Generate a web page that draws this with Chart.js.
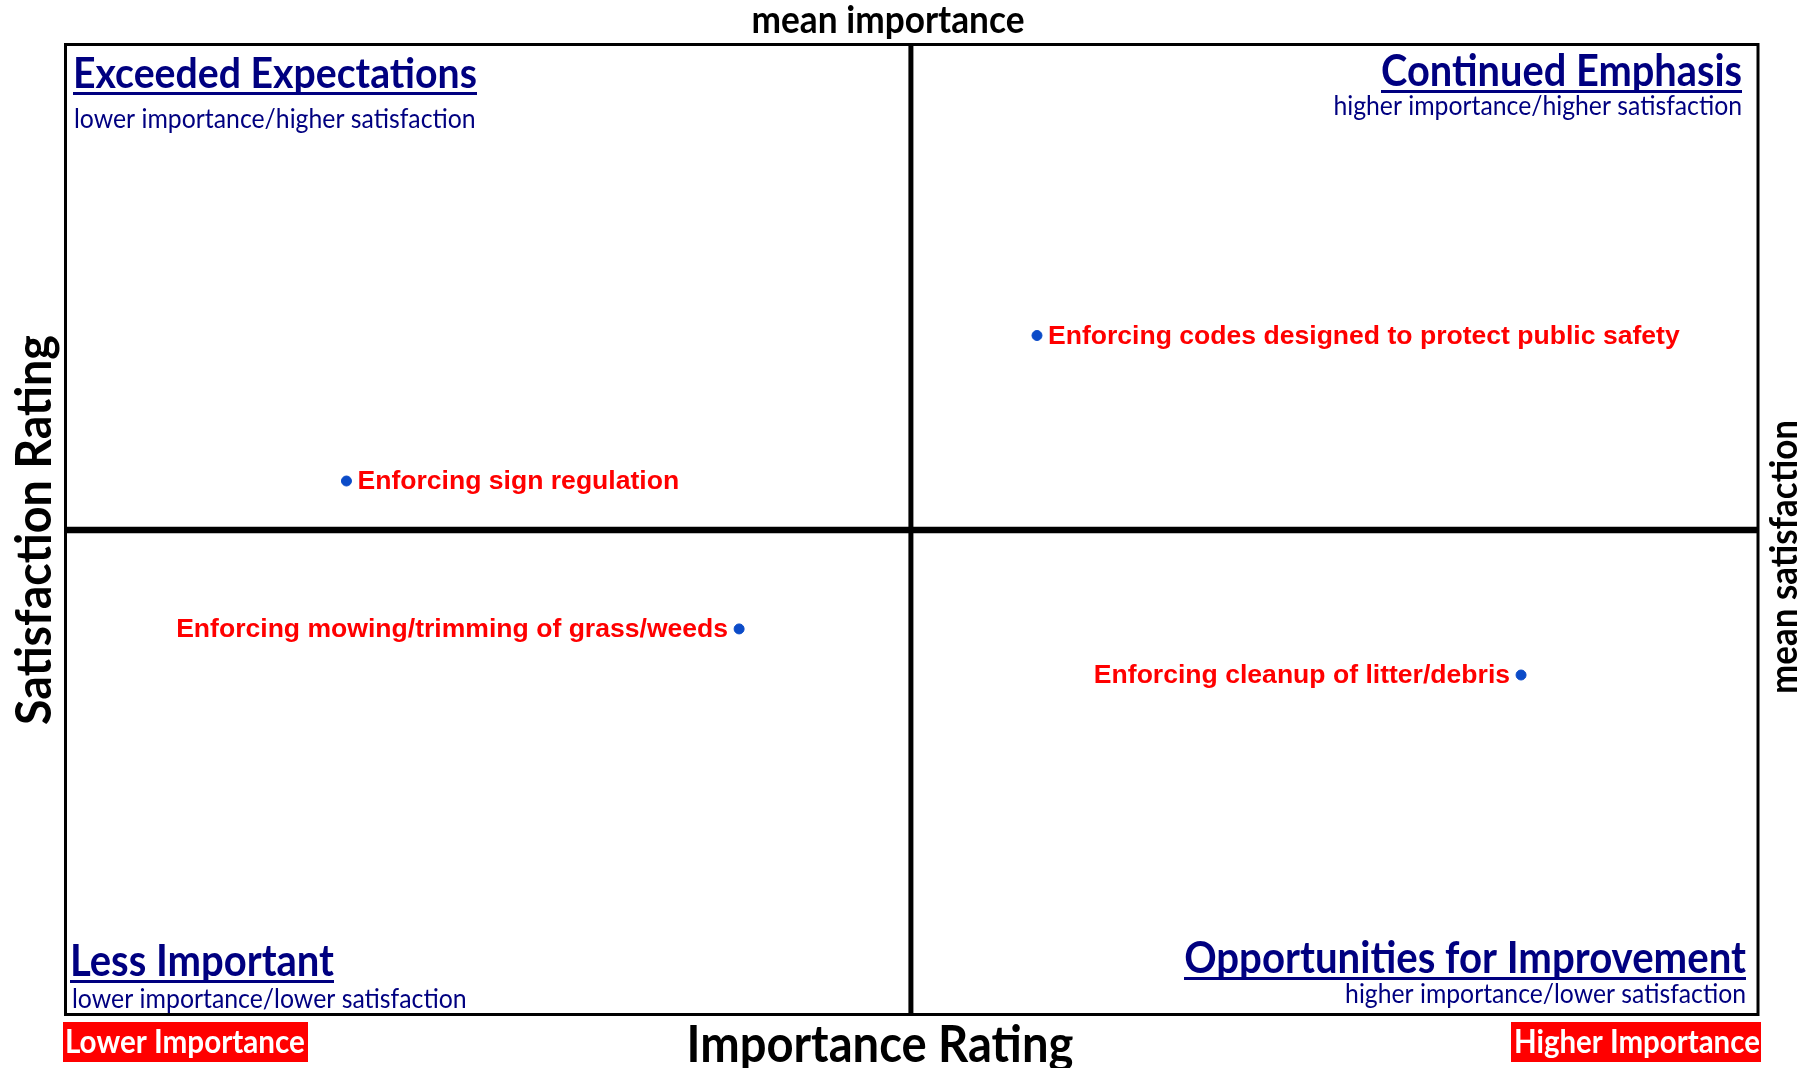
<!DOCTYPE html>
<html>
<head>
<meta charset="utf-8">
<script src="https://cdn.jsdelivr.net/npm/chart.js@4.4.1/dist/chart.umd.min.js"></script>
<style>
  html, body { margin: 0; padding: 0; background: #fff; }
  #wrap { width: 1813px; height: 1068px; }
</style>
</head>
<body>
<div id="wrap"><canvas id="chartCanvas"></canvas></div>
<script>
// items and their ratings
const items = [
  "Enforcing sign regulation",
  "Enforcing codes designed to protect public safety",
  "Enforcing mowing/trimming of grass/weeds",
  "Enforcing cleanup of litter/debris"
];
const importance = [18.3, 38.7, 29.9, 53.0];
const satisfaction = [52.0, 58.0, 45.9, 44.0];
const labelSide = ["right", "right", "left", "left"];
const importanceRange = [10, 60];
const satisfactionRange = [30, 70];

const meanImportance = importance.reduce((a, b) => a + b, 0) / importance.length;
const meanSatisfaction = satisfaction.reduce((a, b) => a + b, 0) / satisfaction.length;

const NAVY = "#000080";
const CAL = "Lato, 'Open Sans', sans-serif";
const ARIAL = "'Liberation Sans', Arial, sans-serif";

// font size that makes text fill the given width
function fitSize(ctx, text, width, weight, family) {
  ctx.font = weight + " 100px " + family;
  return 100 * width / ctx.measureText(text).width;
}

// Lato is shorter than Calibri at the same width, so stretch it a bit vertically
function drawText(ctx, text, x, y, width, opts) {
  const weight = opts.weight || "bold";
  const family = opts.family || CAL;
  const size = fitSize(ctx, text, width, weight, family);
  ctx.save();
  ctx.translate(x, y);
  ctx.scale(1, 1.08);
  ctx.font = weight + " " + size + "px " + family;
  ctx.fillStyle = opts.color || "#000";
  ctx.textAlign = opts.align || "left";
  ctx.textBaseline = "alphabetic";
  ctx.fillText(text, 0, 0);
  ctx.restore();
  if (opts.underline) {
    let x0 = x;
    if (opts.align === "right") x0 = x - width;
    if (opts.align === "center") x0 = x - width / 2;
    ctx.fillStyle = opts.color || "#000";
    ctx.fillRect(x0, opts.underline, width, 3);
  }
}

const quadrantPlugin = {
  id: "quadrant",
  afterDraw(chart) {
    const ctx = chart.ctx;
    const a = chart.chartArea;
    ctx.save();

    // frame
    ctx.strokeStyle = "#000";
    ctx.lineWidth = 3;
    ctx.strokeRect(a.left, a.top, a.right - a.left, a.bottom - a.top);

    // quadrant names
    drawText(ctx, "Exceeded Expectations", 73, 88, 404, { color: NAVY, underline: 92 });
    drawText(ctx, "lower importance/higher satisfaction", 74, 128, 402, { color: NAVY, weight: "normal" });
    drawText(ctx, "Continued Emphasis", 1742, 86, 361, { color: NAVY, align: "right", underline: 90 });
    drawText(ctx, "higher importance/higher satisfaction", 1742, 115, 409, { color: NAVY, weight: "normal", align: "right" });
    drawText(ctx, "Less Important", 70, 976, 264, { color: NAVY, underline: 980 });
    drawText(ctx, "lower importance/lower satisfaction", 72, 1008, 395, { color: NAVY, weight: "normal" });
    drawText(ctx, "Opportunities for Improvement", 1746, 973, 562, { color: NAVY, align: "right", underline: 977 });
    drawText(ctx, "higher importance/lower satisfaction", 1746, 1003, 401, { color: NAVY, weight: "normal", align: "right" });

    // mean labels and axis titles
    drawText(ctx, "mean importance", 888, 33, 273, { align: "center" });
    drawText(ctx, "Importance Rating", 880, 1062, 387, { align: "center" });

    ctx.save();
    ctx.translate(51, 530);
    ctx.rotate(-Math.PI / 2);
    drawText(ctx, "Satisfaction Rating", 0, 0, 390, { align: "center" });
    ctx.restore();

    ctx.save();
    ctx.translate(1797, 557);
    ctx.rotate(-Math.PI / 2);
    drawText(ctx, "mean satisfaction", 0, 0, 274, { align: "center" });
    ctx.restore();

    // red corner tags
    ctx.fillStyle = "#ff0000";
    ctx.fillRect(63, 1022, 245, 40);
    ctx.fillRect(1511, 1022, 250, 40);
    drawText(ctx, "Lower Importance", 65, 1053, 240, { color: "#fff" });
    drawText(ctx, "Higher Importance", 1514, 1053, 246, { color: "#fff" });

    // point labels
    const meta = chart.getDatasetMeta(2);
    const size = fitSize(ctx, items[1], 632, "bold", ARIAL);
    ctx.font = "bold " + size + "px " + ARIAL;
    ctx.fillStyle = "#ff0000";
    ctx.textBaseline = "middle";
    meta.data.forEach((pt, i) => {
      if (labelSide[i] === "right") {
        ctx.textAlign = "left";
        ctx.fillText(items[i], pt.x + 11, pt.y + 1);
      } else {
        ctx.textAlign = "right";
        ctx.fillText(items[i], pt.x - 11, pt.y + 1);
      }
    });

    ctx.restore();
  }
};

new Chart(document.getElementById("chartCanvas"), {
  type: "scatter",
  data: {
    datasets: [
      {
        label: "mean importance",
        data: [{ x: meanImportance, y: satisfactionRange[0] }, { x: meanImportance, y: satisfactionRange[1] }],
        showLine: true,
        borderColor: "#000",
        borderWidth: 5,
        pointRadius: 0,
        order: 2
      },
      {
        label: "mean satisfaction",
        data: [{ x: importanceRange[0], y: meanSatisfaction }, { x: importanceRange[1], y: meanSatisfaction }],
        showLine: true,
        borderColor: "#000",
        borderWidth: 6.5,
        pointRadius: 0,
        order: 2
      },
      {
        label: "items",
        data: importance.map((v, i) => ({ x: v, y: satisfaction[i] })),
        backgroundColor: "#0b4bc8",
        borderColor: "#0b4bc8",
        pointRadius: 5,
        order: 1
      }
    ]
  },
  options: {
    responsive: true,
    maintainAspectRatio: false,
    animation: false,
    layout: { padding: { left: 65.5, right: 55, top: 44.5, bottom: 53.5 } },
    plugins: { legend: { display: false }, tooltip: { enabled: false } },
    scales: {
      x: { type: "linear", min: importanceRange[0], max: importanceRange[1], display: false },
      y: { type: "linear", min: satisfactionRange[0], max: satisfactionRange[1], display: false }
    }
  },
  plugins: [quadrantPlugin]
});
</script>
</body>
</html>
